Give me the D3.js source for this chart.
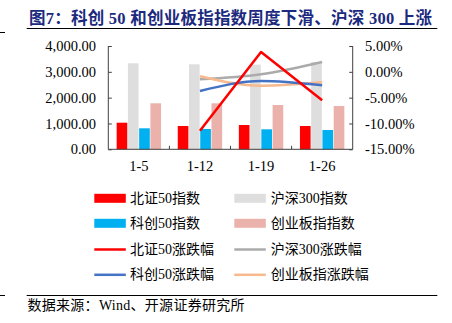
<!DOCTYPE html>
<html><head><meta charset="utf-8">
<script src="https://cdn.jsdelivr.net/npm/d3@7"></script>
<style>
html,body{margin:0;padding:0;background:#fff;}
svg{display:block;font-family:"Liberation Serif","Noto Sans CJK SC",serif;}
</style></head>
<body><svg id="c" width="452" height="323"></svg>
<script>
const categories = ["1-5","1-12","1-19","1-26"];
const barSeries = ["北证50指数","沪深300指数","科创50指数","创业板指指数"];
const bz50 = [1030, 902, 941, 902];
const hs300 = [3330, 3291, 3277, 3380];
const kc50 = [813, 786, 774, 747];
const cyb = [1781, 1781, 1715, 1676];
const lineSeries = ["北证50涨跌幅","沪深300涨跌幅","科创50涨跌幅","创业板指涨跌幅"];
const bz50Chg = [null, -11.40, 3.84, -5.51];
const hs300Chg = [null, -1.45, -0.48, 1.90];
const kc50Chg = [null, -3.71, -1.78, -2.61];
const cybChg = [null, -0.87, -2.69, -2.03];
const leftTicks = [0, 1000, 2000, 3000, 4000];
const rightTicks = [-15, -10, -5, 0, 5];
const title = "图7：科创 50 和创业板指指数周度下滑、沪深 300 上涨";
const source = "数据来源：Wind、开源证券研究所";

const barColors = ["#FF0000","#DEDEDE","#00B0F0","#EAB2AA"];
const lineColors = ["#FF0000","#ABABAB","#4472C4","#F7B98D"];

const svg = d3.select("#c");
const X0 = 108.3, X1 = 352.7, YT = 46, YB = 149.3;

// title
svg.append("text").attr("x",29).attr("y",24).attr("font-size",16.5).attr("font-weight","bold")
  .attr("fill","#1B2A7E").attr("textLength",403).attr("lengthAdjust","spacing").text(title);
svg.append("line").attr("x1",26.7).attr("x2",437.3).attr("y1",28.5).attr("y2",28.5).attr("stroke","#000").attr("stroke-width",1);
svg.append("line").attr("x1",0).attr("x2",5).attr("y1",32.5).attr("y2",32.5).attr("stroke","#000").attr("stroke-width",1);

const x = d3.scaleBand().domain(categories).range([X0,X1]).padding(0);
const yL = d3.scaleLinear().domain([0,4000]).range([YB,YT]);
const yR = d3.scaleLinear().domain([-15,5]).range([YB,YT]);
const groupW = 45;
const xi = d3.scaleBand().domain(barSeries).range([-groupW/2, groupW/2]).padding(0);

const barData = [bz50, hs300, kc50, cyb];
barSeries.forEach((s,si)=>{
  svg.append("g").selectAll("rect").data(barData[si]).join("rect")
    .attr("x",(d,i)=>x(categories[i])+x.bandwidth()/2+xi(s)+0.3)
    .attr("width",xi.bandwidth()-0.6)
    .attr("y",d=>yL(d)).attr("height",d=>YB-yL(d))
    .attr("fill",barColors[si]);
});

// axes
const axColor = "#404040";
const gL = svg.append("g").attr("transform",`translate(${X0},0)`)
  .call(d3.axisRight(yL).tickValues(leftTicks).tickSize(3.5).tickFormat(""));
const gR = svg.append("g").attr("transform",`translate(${X1},0)`)
  .call(d3.axisLeft(yR).tickValues(rightTicks).tickSize(3.5).tickFormat(""));
[gL,gR].forEach(g=>{g.selectAll("path,line").attr("stroke",axColor); g.select(".domain").attr("d",`M0,${YT}V${YB}`);});
const fmtL = d3.format(",.2f");
svg.append("g").selectAll("text").data(leftTicks).join("text")
  .attr("x",96).attr("y",d=>yL(d)).attr("dy","0.35em").attr("text-anchor","end")
  .attr("font-size",14.5).attr("fill","#000").text(d=>fmtL(d));
svg.append("g").selectAll("text").data(rightTicks).join("text")
  .attr("x",365).attr("y",d=>yR(d)).attr("dy","0.35em").attr("text-anchor","start")
  .attr("font-size",14.5).attr("fill","#000").text(d=>d.toFixed(2)+"%");

// x axis
svg.append("line").attr("x1",X0).attr("x2",X1).attr("y1",YB).attr("y2",YB).attr("stroke",axColor);
svg.append("g").selectAll("line").data(categories.slice(1)).join("line")
  .attr("x1",d=>x(d)).attr("x2",d=>x(d)).attr("y1",YB).attr("y2",YB-3.5).attr("stroke",axColor);
svg.append("g").selectAll("text").data(categories).join("text")
  .attr("x",d=>x(d)+x.bandwidth()/2).attr("y",171).attr("text-anchor","middle")
  .attr("font-size",14.5).attr("fill","#000").text(d=>d);

// lines
const lineData = [bz50Chg, hs300Chg, kc50Chg, cybChg];
const order = [1,3,2,0];
order.forEach(si=>{
  const pts = lineData[si].map((v,i)=>({c:categories[i],v})).filter(p=>p.v!==null);
  const gen = d3.line().x(p=>x(p.c)+x.bandwidth()/2).y(p=>yR(p.v))
    .curve(si===0?d3.curveLinear:d3.curveMonotoneX);
  svg.append("path").attr("d",gen(pts)).attr("fill","none")
    .attr("stroke",lineColors[si]).attr("stroke-width",2.5).attr("stroke-linejoin","round");
});

// legend
const legCols = [[94.3,130],[234.3,270.7]];
const legRows = [198.3,223.3,249,274.3];
const legItems = [
  {t:barSeries[0],c:barColors[0],bar:true},{t:barSeries[1],c:barColors[1],bar:true},
  {t:barSeries[2],c:barColors[2],bar:true},{t:barSeries[3],c:barColors[3],bar:true},
  {t:lineSeries[0],c:lineColors[0]},{t:lineSeries[1],c:lineColors[1]},
  {t:lineSeries[2],c:lineColors[2]},{t:lineSeries[3],c:lineColors[3]}
];
legItems.forEach((it,i)=>{
  const [sx,tx] = legCols[i%2]; const cy = legRows[Math.floor(i/2)];
  if(it.bar){
    svg.append("rect").attr("x",sx).attr("y",cy-4.5).attr("width",31.5).attr("height",9).attr("fill",it.c);
  } else {
    svg.append("line").attr("x1",sx).attr("x2",sx+31.5).attr("y1",cy+0.5).attr("y2",cy+0.5)
      .attr("stroke",it.c).attr("stroke-width",2.5);
  }
  svg.append("text").attr("x",tx).attr("y",cy).attr("dy","0.36em").attr("font-size",14)
    .attr("fill","#000").text(it.t);
});

// source
svg.append("line").attr("x1",26.7).attr("x2",437.3).attr("y1",295.5).attr("y2",295.5).attr("stroke","#000");
svg.append("line").attr("x1",0).attr("x2",5).attr("y1",295.5).attr("y2",295.5).attr("stroke","#000");
svg.append("text").attr("x",27.5).attr("y",305).attr("dy","0.36em").attr("font-size",14)
  .attr("fill","#000").attr("textLength",217).attr("lengthAdjust","spacing").text(source);
</script></body></html>
